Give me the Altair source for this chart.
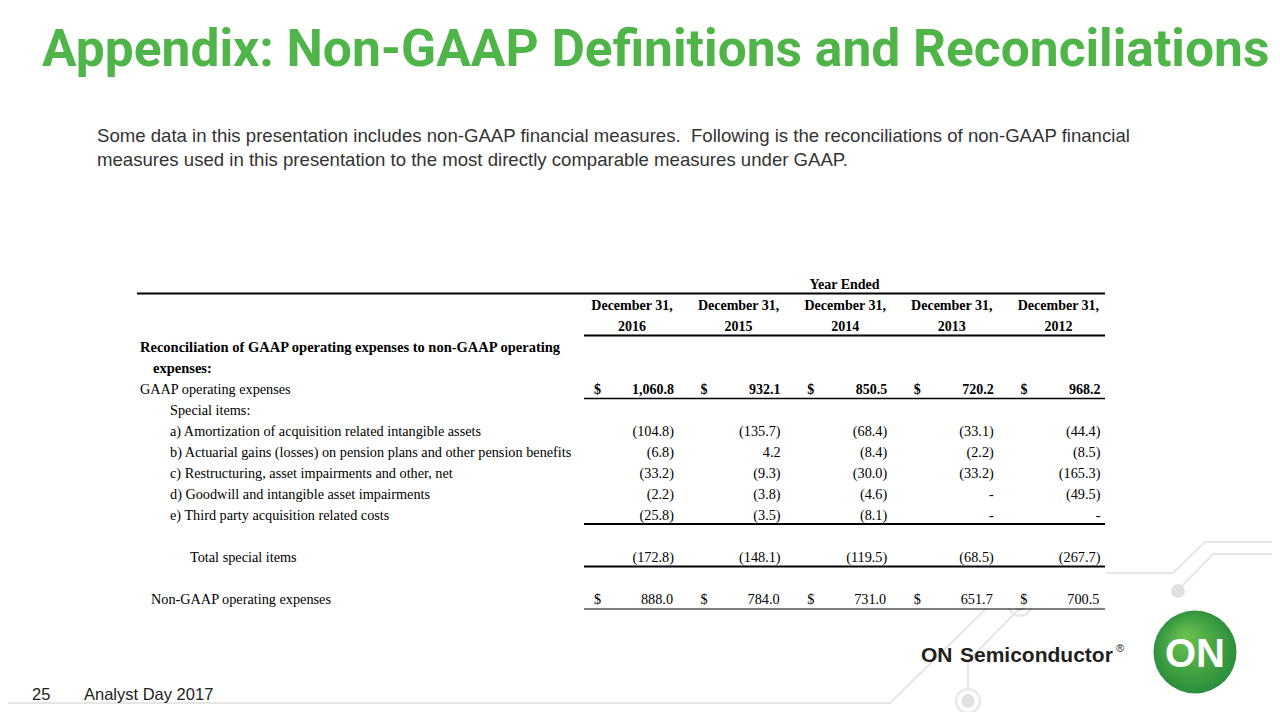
import altair as alt
import pandas as pd

# ---------------- data ----------------
title = "Appendix: Non-GAAP Definitions and Reconciliations"
subtitle = [
    "Some data in this presentation includes non-GAAP financial measures.\u00a0 Following is the reconciliations of non-GAAP financial",
    "measures used in this presentation to the most directly comparable measures under GAAP.",
]
years = ["2016", "2015", "2014", "2013", "2012"]
period_label = "December 31,"
group_label = "Year Ended"
section_title = ["Reconciliation of GAAP operating expenses to non-GAAP operating", "expenses:"]

gaap_label = "GAAP operating expenses"
gaap_opex = [1060.8, 932.1, 850.5, 720.2, 968.2]

special_label = "Special items:"
item_labels = [
    "a) Amortization of acquisition related intangible assets",
    "b) Actuarial gains (losses) on pension plans and other pension benefits",
    "c) Restructuring, asset impairments and other, net",
    "d) Goodwill and intangible asset impairments",
    "e) Third party acquisition related costs",
]
amortization = [-104.8, -135.7, -68.4, -33.1, -44.4]
actuarial = [-6.8, 4.2, -8.4, -2.2, -8.5]
restructuring = [-33.2, -9.3, -30.0, -33.2, -165.3]
goodwill = [-2.2, -3.8, -4.6, None, -49.5]
third_party = [-25.8, -3.5, -8.1, None, None]

total_label = "Total special items"
total_special = [-172.8, -148.1, -119.5, -68.5, -267.7]

nongaap_label = "Non-GAAP operating expenses"
nongaap_opex = [888.0, 784.0, 731.0, 651.7, 700.5]

footer_page = "25"
footer_event = "Analyst Day 2017"
brand = "Semiconductor"

# ---------------- layout / style ----------------
W, H = 1264, 704
SERIF = "Liberation Serif"
SANS = "Liberation Sans"
TITLE_FONT = "Roboto"
GREEN = "#4fb548"
DECO = "#e6e6e6"

ROW0, PITCH = 283.5, 21.0
COL_RIGHT0, COL_STEP = 674.0, 106.6
DOLLAR0 = 597.5
TABLE_LEFT, COLS_LEFT, TABLE_RIGHT = 137, 584, 1105
FS = 14.25


def row_y(r):
    return ROW0 + PITCH * r


def fmt(v):
    if v is None:
        return "-"
    s = f"{abs(v):,.1f}"
    return f"({s})" if v < 0 else s


xs = alt.Scale(domain=[8, 8 + W], range=[0, W], nice=False, zero=False)
ys = alt.Scale(domain=[8, 8 + H], range=[0, H], nice=False, zero=False)
X = alt.X("x:Q", scale=xs, axis=None)
Y = alt.Y("y:Q", scale=ys, axis=None)


def text_layer(rows, size, font=SERIF, weight="normal", align="left", color="#000000"):
    df = pd.DataFrame(rows, columns=["x", "y", "t"])
    return alt.Chart(df).mark_text(
        align=align, baseline="alphabetic", font=font, fontSize=size,
        fontWeight=weight, color=color
    ).encode(x=X, y=Y, text="t:N")


layers = []

# ---- decorative circuit lines ----
paths = [
    [(1105, 573), (1173, 573), (1205, 542), (1280, 542)],
    [(1280, 554), (1213, 554), (1180, 588)],
    [(0, 703), (890, 703), (1000, 595)],
    [(968, 690), (968, 661), (1018, 610)],
]
prow = []
for i, p in enumerate(paths):
    for j, (px, py) in enumerate(p):
        prow.append({"x": px, "y": py, "p": i, "o": j})
layers.append(
    alt.Chart(pd.DataFrame(prow)).mark_line(color=DECO, strokeWidth=2).encode(
        x=X, y=Y, detail="p:N", order="o:Q")
)
rings = pd.DataFrame({"x": [968, 1020], "y": [701, 604]})
layers.append(alt.Chart(rings).mark_point(shape="circle", size=560, strokeWidth=2.5,
                                           color="#e9e9e9", opacity=1, filled=False).encode(x=X, y=Y))
dots = pd.DataFrame({"x": [968, 1020, 1178], "y": [701, 604, 591]})
layers.append(alt.Chart(dots).mark_circle(size=190, color="#e0e0e0", opacity=1).encode(x=X, y=Y))

# ---- white table background ----
bg = pd.DataFrame({"x": [TABLE_LEFT - 5], "x2": [TABLE_RIGHT + 1], "y": [268], "y2": [608]})
layers.append(alt.Chart(bg).mark_rect(color="white").encode(x=X, x2="x2:Q", y=Y, y2="y2:Q"))

# ---- title & subtitle ----
layers.append(text_layer([(42, 66, title)], 51.5, font=TITLE_FONT, weight="bold", color=GREEN))
layers.append(text_layer([(97, 142, subtitle[0]), (97, 166, subtitle[1])], 18.6, font=SANS, color="#333333"))

# ---- table rules ----
rules = [
    (row_y(0) + 10, TABLE_LEFT, 2.0),
    (row_y(2) + 10, COLS_LEFT, 2.0),
    (row_y(5) + 10, COLS_LEFT, 1.6),
    (row_y(11) + 9.5, COLS_LEFT, 2.0),
    (row_y(13) + 10, COLS_LEFT, 2.0),
    (row_y(15) + 10.5, COLS_LEFT, 1.2),
]
for ry, rx, sw in rules:
    df = pd.DataFrame({"x": [rx], "x2": [TABLE_RIGHT], "y": [ry]})
    layers.append(alt.Chart(df).mark_rule(color="#000000", strokeWidth=sw).encode(x=X, x2="x2:Q", y=Y))

BL = 5  # baseline offset from row centre

# header
centers = [COL_RIGHT0 - 42 + COL_STEP * j for j in range(5)]
hdr = [((COLS_LEFT + TABLE_RIGHT) / 2, row_y(0) + BL, group_label)]
hdr += [(c, row_y(1) + BL, period_label) for c in centers]
hdr += [(c, row_y(2) + BL, yv) for c, yv in zip(centers, years)]
layers.append(text_layer(hdr, 14, weight="bold", align="center"))

# labels
bold_labels = [(140, row_y(3) + BL, section_title[0]), (153, row_y(4) + BL, section_title[1])]
layers.append(text_layer(bold_labels, 14.5, weight="bold"))
labels = [(140, row_y(5) + BL, gaap_label), (170, row_y(6) + BL, special_label)]
labels += [(170, row_y(7 + i) + BL, lab) for i, lab in enumerate(item_labels)]
labels += [(190, row_y(13) + BL, total_label), (151, row_y(15) + BL, nongaap_label)]
layers.append(text_layer(labels, FS))

# values
rights = [COL_RIGHT0 + COL_STEP * j for j in range(5)]
dollars = [DOLLAR0 + COL_STEP * j for j in range(5)]
bold_vals = [(rx, row_y(5) + BL, fmt(v)) for rx, v in zip(rights, gaap_opex)]
layers.append(text_layer(bold_vals, 14, weight="bold", align="right"))
layers.append(text_layer([(dx, row_y(5) + BL, "$") for dx in dollars], 14, weight="bold", align="center"))
vals = []
for i, series in enumerate([amortization, actuarial, restructuring, goodwill, third_party]):
    vals += [(rx, row_y(7 + i) + BL, fmt(v)) for rx, v in zip(rights, series)]
vals += [(rx, row_y(13) + BL, fmt(v)) for rx, v in zip(rights, total_special)]
vals += [(rx - 1, row_y(15) + BL, fmt(v)) for rx, v in zip(rights, nongaap_opex)]
layers.append(text_layer(vals, FS, align="right"))
layers.append(text_layer([(dx, row_y(15) + BL, "$") for dx in dollars], FS, align="center"))

# ---- footer ----
layers.append(text_layer([(32, 700, footer_page), (84, 700, footer_event)], 16.5, font=SANS, color="#222222"))

# ---- logo ----
layers.append(text_layer([(921, 661.5, "ON"), (960, 661.5, brand)], 21, font=SANS, weight="bold", color="#231f20"))
layers.append(text_layer([(1116, 652, "®")], 11, font=SANS, color="#231f20"))
logo = pd.DataFrame({"x": [1195], "y": [652]})
grad = alt.RadialGradient(
    gradient="radial", x1=0.38, y1=0.3, r1=0.0, x2=0.5, y2=0.5, r2=0.55,
    stops=[alt.GradientStop(offset=0, color="#6cc44f"), alt.GradientStop(offset=1, color="#268a3a")],
)
layers.append(alt.Chart(logo).mark_circle(size=6890, fill=grad, opacity=1, strokeWidth=0).encode(x=X, y=Y))
layers.append(text_layer([(1195, 667, "ON")], 40, font=SANS, weight="bold", align="center", color="#ffffff"))

chart = alt.layer(*layers).properties(
    width=W, height=H, padding=0, autosize=alt.AutoSizeParams(type="none"),
    background="white",
).configure_view(stroke=None)

chart.save("out.html", embed_options={"renderer": "svg", "actions": False})
